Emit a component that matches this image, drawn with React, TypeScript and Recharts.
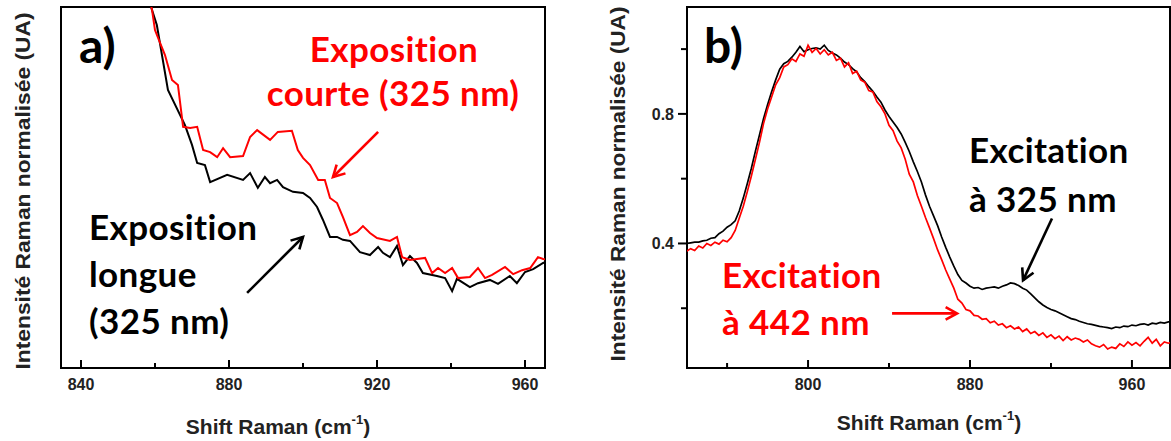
import React from 'react';
import { LineChart, Line, XAxis, YAxis, ReferenceLine, ReferenceArea } from 'recharts';

// panel a) : exposition longue vs courte, 325 nm
const longShift = [858.0, 860.5, 863.5, 868.1, 870.0, 871.4, 873.5, 874.9, 879.5, 883.8, 885.7, 887.8, 889.7, 891.1, 893.0, 894.6, 897.3, 900.0, 901.9, 903.8, 905.4, 907.3, 909.2, 910.8, 912.7, 915.4, 918.1, 920.3, 921.6, 923.5, 925.4, 927.0, 928.9, 930.8, 932.4, 936.2, 938.4, 940.3, 941.6, 945.1, 947.3, 950.5, 952.7, 955.9, 957.8, 960.0, 962.2, 964.9, 966];
const longInt = [1.03, 0.95, 0.77, 0.673, 0.618, 0.568, 0.562, 0.515, 0.535, 0.521, 0.54, 0.499, 0.529, 0.512, 0.521, 0.501, 0.488, 0.485, 0.471, 0.446, 0.41, 0.363, 0.363, 0.355, 0.352, 0.321, 0.313, 0.335, 0.319, 0.307, 0.338, 0.285, 0.31, 0.291, 0.263, 0.255, 0.249, 0.213, 0.247, 0.224, 0.235, 0.244, 0.233, 0.255, 0.235, 0.266, 0.274, 0.291, 0.295];
const shortShift = [858.4, 859.2, 860.0, 861.4, 862.7, 864.6, 866.2, 867.6, 869.5, 871.4, 873.0, 874.9, 876.8, 878.4, 880.3, 883.8, 885.7, 887.6, 891.1, 893.2, 897.0, 898.6, 900.0, 901.9, 904.1, 905.9, 907.3, 909.2, 910.8, 912.7, 914.6, 916.2, 918.1, 920.0, 923.5, 925.4, 926.8, 928.9, 930.8, 933.0, 934.9, 936.5, 938.4, 940.3, 941.9, 945.1, 947.3, 949.2, 951.1, 954.6, 956.8, 959.2, 961.4, 963.5, 964.9, 966];
const shortInt = [1.03, 0.992, 0.936, 0.9, 0.867, 0.798, 0.784, 0.668, 0.665, 0.668, 0.604, 0.598, 0.584, 0.609, 0.584, 0.587, 0.64, 0.659, 0.632, 0.654, 0.657, 0.604, 0.582, 0.562, 0.521, 0.521, 0.471, 0.457, 0.418, 0.368, 0.377, 0.393, 0.374, 0.36, 0.352, 0.363, 0.307, 0.299, 0.302, 0.305, 0.263, 0.277, 0.263, 0.277, 0.249, 0.252, 0.277, 0.249, 0.258, 0.28, 0.26, 0.271, 0.277, 0.307, 0.302, 0.3];

// panel b) : excitation 325 nm vs 442 nm
const shiftB = [740, 742, 744, 746, 748, 750, 752, 754, 756, 758, 760, 762, 764, 766, 768, 770, 772, 774, 776, 778, 780, 782, 784, 786, 788, 790, 792, 794, 796, 798, 800, 802, 804, 806, 808, 810, 812, 814, 816, 818, 820, 822, 824, 826, 828, 830, 832, 834, 836, 838, 840, 842, 844, 846, 848, 850, 852, 854, 856, 858, 860, 862, 864, 866, 868, 870, 872, 874, 876, 878, 880, 882, 884, 886, 888, 890, 892, 894, 896, 898, 900, 902, 904, 906, 908, 910, 912, 914, 916, 918, 920, 922, 924, 926, 928, 930, 932, 934, 936, 938, 940, 942, 944, 946, 948, 950, 952, 954, 956, 958, 960, 962, 964, 966, 968, 970, 972, 974, 976, 978, 980];
const exc325 = [0.4, 0.402, 0.404, 0.404, 0.408, 0.41, 0.416, 0.418, 0.43, 0.438, 0.45, 0.458, 0.47, 0.5, 0.54, 0.585, 0.632, 0.685, 0.735, 0.785, 0.828, 0.868, 0.905, 0.938, 0.955, 0.962, 0.975, 0.99, 1.008, 0.992, 0.998, 1.002, 1.004, 1.0, 1.012, 0.996, 0.988, 0.982, 0.972, 0.96, 0.952, 0.94, 0.93, 0.912, 0.9, 0.884, 0.87, 0.852, 0.836, 0.812, 0.792, 0.775, 0.758, 0.738, 0.712, 0.684, 0.652, 0.622, 0.59, 0.55, 0.515, 0.485, 0.455, 0.42, 0.388, 0.358, 0.33, 0.304, 0.286, 0.278, 0.268, 0.262, 0.264, 0.258, 0.262, 0.264, 0.266, 0.262, 0.268, 0.272, 0.278, 0.276, 0.27, 0.262, 0.256, 0.244, 0.232, 0.22, 0.21, 0.202, 0.196, 0.192, 0.186, 0.18, 0.174, 0.168, 0.165, 0.16, 0.156, 0.152, 0.15, 0.147, 0.144, 0.142, 0.14, 0.137, 0.142, 0.14, 0.145, 0.143, 0.148, 0.146, 0.15, 0.152, 0.148, 0.154, 0.152, 0.156, 0.154, 0.158, 0.157];
const exc442 = [0.376, 0.384, 0.378, 0.392, 0.386, 0.4, 0.394, 0.404, 0.398, 0.41, 0.405, 0.418, 0.44, 0.478, 0.515, 0.56, 0.608, 0.66, 0.712, 0.77, 0.815, 0.852, 0.89, 0.912, 0.945, 0.952, 0.97, 0.962, 0.985, 0.978, 1.012, 0.99, 1.002, 0.985, 0.998, 0.982, 0.99, 0.965, 0.972, 0.945, 0.958, 0.925, 0.932, 0.905, 0.898, 0.872, 0.868, 0.838, 0.822, 0.8, 0.765, 0.748, 0.716, 0.695, 0.66, 0.614, 0.59, 0.548, 0.515, 0.48, 0.448, 0.415, 0.38, 0.35, 0.318, 0.29, 0.262, 0.228, 0.216, 0.196, 0.192, 0.178, 0.176, 0.166, 0.168, 0.155, 0.16, 0.148, 0.152, 0.14, 0.146, 0.136, 0.142, 0.128, 0.136, 0.122, 0.128, 0.116, 0.124, 0.11, 0.118, 0.106, 0.114, 0.1, 0.112, 0.102, 0.108, 0.104, 0.096, 0.102, 0.09, 0.084, 0.08, 0.088, 0.074, 0.08, 0.076, 0.09, 0.082, 0.096, 0.086, 0.094, 0.084, 0.098, 0.11, 0.092, 0.104, 0.084, 0.096, 0.092, 0.096];

const ticksA = [840, 860, 880, 900, 920, 940, 960];
const labelsA = [840, 880, 920, 960];
const ticksBx = [760, 800, 840, 880, 920, 960];
const labelsBx = [800, 880, 960];
const ticksBy = [0.2, 0.4, 0.6, 0.8, 1.0];
const labelsBy = [0.4, 0.8];

const domA: [number, number] = [834.6, 965.4];
const domAy: [number, number] = [0, 1];
const domBx: [number, number] = [740.2, 978.8];
const domBy: [number, number] = [0.0155, 1.13];

const RED = '#ff0000';
const AXIS_FONT = '"Liberation Sans", Arial, sans-serif';
const NOTE_FONT = 'Lato, "Open Sans", sans-serif';

const longData = longShift.map((x, i) => ({ x, v: longInt[i] }));
const shortData = shortShift.map((x, i) => ({ x, v: shortInt[i] }));
const dataB = shiftB.map((x, i) => ({ x, a: exc325[i], b: exc442[i] }));

const bottomTick = (labels: number[]) => (props: any) => {
  const { x, y, payload } = props;
  const major = labels.includes(payload.value);
  return (
    <g>
      <line x1={x} x2={x} y1={y} y2={y - (major ? 8 : 5)} stroke="#000" strokeWidth={2} />
      {major && (
        <text x={x} y={y + 22} textAnchor="middle" fontFamily={AXIS_FONT} fontWeight="bold" fontSize={16} fill="#222">
          {payload.value}
        </text>
      )}
    </g>
  );
};

const leftTick = (labels: number[]) => (props: any) => {
  const { x, y, payload } = props;
  const major = labels.includes(payload.value);
  return (
    <g>
      <line x1={x} x2={x - (major ? 9 : 6)} y1={y} y2={y} stroke="#000" strokeWidth={2} />
      {major && (
        <text x={x - 13} y={y + 6} textAnchor="end" fontFamily={AXIS_FONT} fontWeight="bold" fontSize={16} fill="#222">
          {payload.value.toFixed(1)}
        </text>
      )}
    </g>
  );
};

function Arrow(props: any) {
  const { x1, y1, x2, y2, stroke } = props;
  const ang = Math.atan2(y2 - y1, x2 - x1);
  const len = 13;
  const spread = 0.5;
  const ax = x2 - len * Math.cos(ang - spread);
  const ay = y2 - len * Math.sin(ang - spread);
  const bx = x2 - len * Math.cos(ang + spread);
  const by = y2 - len * Math.sin(ang + spread);
  return (
    <g>
      <line x1={x1} y1={y1} x2={x2} y2={y2} stroke={stroke} strokeWidth={2.6} />
      <polyline points={`${ax},${ay} ${x2},${y2} ${bx},${by}`} fill="none" stroke={stroke} strokeWidth={2.6} />
    </g>
  );
}

function PanelA() {
  return (
    <LineChart width={560} height={441} margin={{ top: 7, right: 15, bottom: 43, left: 61 }}>
      <XAxis dataKey="x" type="number" domain={domA} ticks={ticksA} allowDataOverflow height={30}
        tickSize={0} tickMargin={0} tickLine={false} axisLine={false} tick={bottomTick(labelsA)} />
      <YAxis type="number" domain={domAy} allowDataOverflow width={0} tick={false} tickLine={false} axisLine={false} />
      <ReferenceArea x1={domA[0]} x2={domA[1]} y1={domAy[0]} y2={domAy[1]} fill="none" stroke="#000" strokeWidth={2} ifOverflow="visible" />
      <Line data={longData} dataKey="v" stroke="#000" strokeWidth={2} dot={false} isAnimationActive={false} />
      <Line data={shortData} dataKey="v" stroke={RED} strokeWidth={2} dot={false} isAnimationActive={false} />
      <ReferenceLine segment={[{ x: 920.3, y: 0.654 }, { x: 908.1, y: 0.529 }]} stroke={RED} shape={Arrow} />
      <ReferenceLine segment={[{ x: 884.9, y: 0.208 }, { x: 900.0, y: 0.363 }]} stroke="#000" shape={Arrow} />
    </LineChart>
  );
}

function PanelB() {
  return (
    <LineChart width={591} height={441} data={dataB} margin={{ top: 7, right: 1, bottom: 43, left: 67 }}>
      <XAxis dataKey="x" type="number" domain={domBx} ticks={ticksBx} allowDataOverflow height={30}
        tickSize={0} tickMargin={0} tickLine={false} axisLine={false} tick={bottomTick(labelsBx)} />
      <YAxis type="number" domain={domBy} ticks={ticksBy} allowDataOverflow width={40}
        tickSize={0} tickMargin={0} tickLine={false} axisLine={false} tick={leftTick(labelsBy)} />
      <ReferenceArea x1={domBx[0]} x2={domBx[1]} y1={domBy[0]} y2={domBy[1]} fill="none" stroke="#000" strokeWidth={2} ifOverflow="visible" />
      <Line dataKey="a" stroke="#000" strokeWidth={1.7} dot={false} isAnimationActive={false} />
      <Line dataKey="b" stroke={RED} strokeWidth={1.7} dot={false} isAnimationActive={false} />
      <ReferenceLine segment={[{ x: 920.5, y: 0.477 }, { x: 906.2, y: 0.286 }]} stroke="#000" shape={Arrow} />
      <ReferenceLine segment={[{ x: 841.5, y: 0.184 }, { x: 873.6, y: 0.184 }]} stroke={RED} shape={Arrow} />
    </LineChart>
  );
}

const yTitle = 'Intensité Raman normalisée (UA)';

function XTitle({ cx, y }: { cx: number; y: number }) {
  return (
    <text x={cx} y={y} textAnchor="middle" fontFamily={AXIS_FONT} fontWeight="bold" fontSize={21} fill="#222">
      Shift Raman (cm<tspan fontSize={13} dy={-10}>-1</tspan><tspan dy={10}>)</tspan>
    </text>
  );
}

function YTitle({ x, cy, len }: { x: number; cy: number; len: number }) {
  return (
    <text x={x} y={cy} transform={`rotate(-90 ${x} ${cy})`} textAnchor="middle" fontFamily={AXIS_FONT}
      fontWeight="bold" fontSize={21} fill="#222" textLength={len} lengthAdjust="spacingAndGlyphs">
      {yTitle}
    </text>
  );
}

function Note({ x, y, color, anchor = 'start', children }: any) {
  return (
    <text x={x} y={y} textAnchor={anchor} fontFamily={NOTE_FONT} fontWeight={700} fontSize={35}
      letterSpacing={0.4} fill={color}>
      {children}
    </text>
  );
}

export default function App() {
  return (
    <div style={{ position: 'absolute', left: 0, top: 0, width: 1171, height: 441, background: '#fff', overflow: 'hidden' }}>
      <div style={{ position: 'absolute', left: 0, top: 0 }}>
        <PanelA />
      </div>
      <div style={{ position: 'absolute', left: 580, top: 0 }}>
        <PanelB />
      </div>
      <svg width={1171} height={441} style={{ position: 'absolute', left: 0, top: 0, pointerEvents: 'none' }}>
        <YTitle x={30} cy={191} len={357} />
        <YTitle x={625} cy={184} len={355} />
        <XTitle cx={278} y={434} />
        <XTitle cx={929} y={430} />
        <text x={79} y={63} fontFamily={NOTE_FONT} fontWeight={700} fontSize={48}>a)</text>
        <text x={704} y={63} fontFamily={NOTE_FONT} fontWeight={700} fontSize={48}>b)</text>
        <Note x={394} y={62} color={RED} anchor="middle">Exposition</Note>
        <Note x={393} y={106} color={RED} anchor="middle">courte (325 nm)</Note>
        <Note x={89} y={240} color="#000">Exposition</Note>
        <Note x={89} y={287} color="#000">longue</Note>
        <Note x={89} y={334} color="#000">(325 nm)</Note>
        <Note x={969} y={163} color="#000">Excitation</Note>
        <Note x={969} y={212} color="#000">à 325 nm</Note>
        <Note x={722} y={288} color={RED}>Excitation</Note>
        <Note x={722} y={335} color={RED}>à 442 nm</Note>
      </svg>
    </div>
  );
}
